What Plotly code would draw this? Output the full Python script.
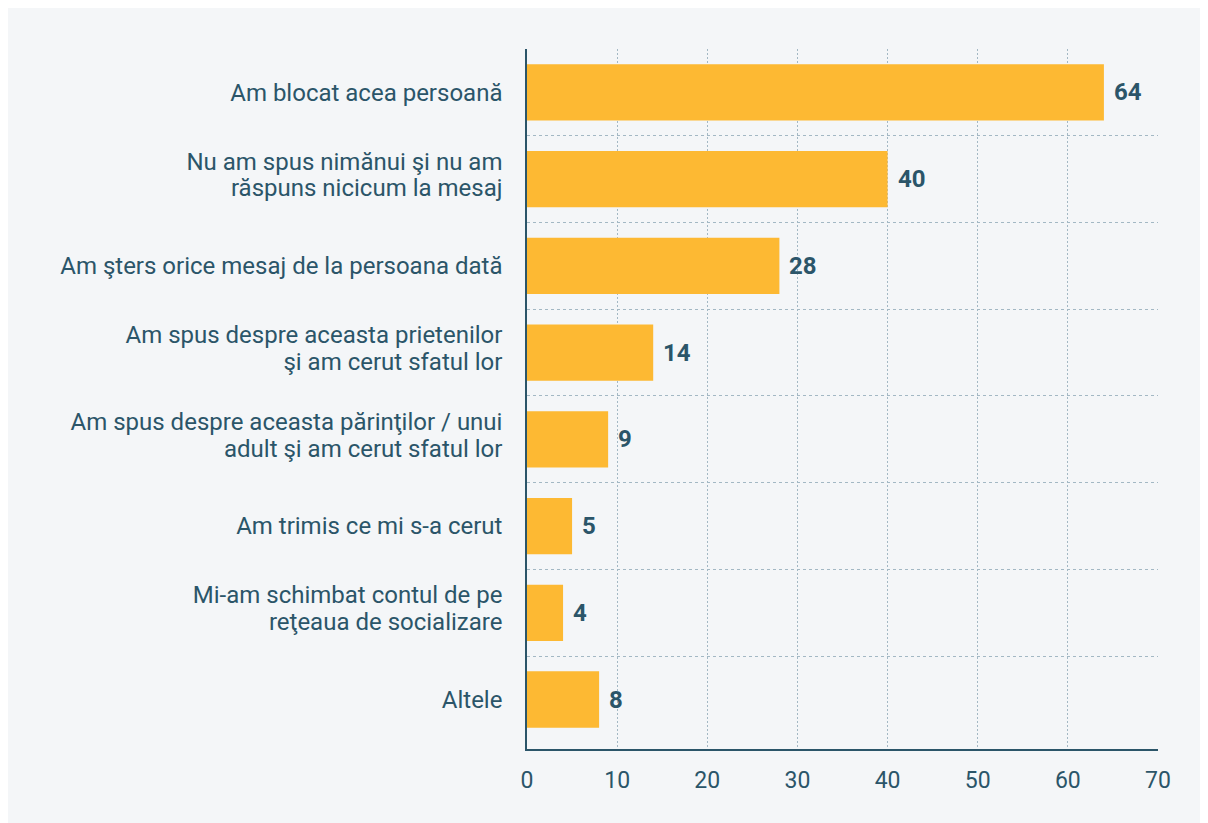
import plotly.graph_objects as go

categories = [
    "Am blocat acea persoană",
    "Nu am spus nimănui şi nu am<br>răspuns nicicum la mesaj",
    "Am şters orice mesaj de la persoana dată",
    "Am spus despre aceasta prietenilor<br>şi am cerut sfatul lor",
    "Am spus despre aceasta părinţilor / unui<br>adult şi am cerut sfatul lor",
    "Am trimis ce mi s-a cerut",
    "Mi-am schimbat contul de pe<br>reţeaua de socializare",
    "Altele",
]
values = [64, 40, 28, 14, 9, 5, 4, 8]
x_ticks = [0, 10, 20, 30, 40, 50, 60, 70]

BAR = "#fdb933"
TXT = "#2b5569"
BG = "#f4f6f8"
GRID = "#a3b8c4"

idx = list(range(len(categories)))
n = len(categories)

# tighter line spacing for multi-line category labels: each line becomes its own tick
ROW_PX = 87.0
LINE_H = 27.0 / ROW_PX
UP = 4.5 / ROW_PX
tick_pos, tick_txt = [], []
for i, lab in zip(idx, categories):
    lines = lab.split("<br>")
    k = len(lines)
    for j, line in enumerate(lines):
        off = (j - (k - 1) / 2) * LINE_H - (UP if k > 1 else 0)
        tick_pos.append(i + off)
        tick_txt.append(line)

fig = go.Figure()
fig.add_trace(go.Bar(
    x=values, y=idx, orientation="h",
    marker=dict(color=BAR, line=dict(width=0)),
    width=0.65, hoverinfo="skip",
))

for i, v in zip(idx, values):
    fig.add_annotation(
        x=v, y=i, text=f"<b>{v}</b>", showarrow=False,
        xanchor="left", yanchor="middle", xshift=8,
        font=dict(family="Roboto", size=24, color=TXT),
    )

fig.update_layout(
    width=1208, height=823,
    paper_bgcolor=BG, plot_bgcolor=BG,
    margin=dict(l=519, r=58, t=41, b=82),
    showlegend=False,
    font=dict(family="Roboto", size=24, color=TXT),
    xaxis=dict(
        range=[0, 70], tickvals=x_ticks, ticktext=[str(t) for t in x_ticks],
        showgrid=True, gridcolor=GRID, griddash="2px,2px", gridwidth=1,
        showline=True, linecolor=TXT, linewidth=1.5,
        ticks="outside", ticklen=10, tickcolor="rgba(0,0,0,0)",
        tickfont=dict(size=23, color=TXT), zeroline=False,
    ),
    yaxis=dict(
        range=[n - 0.5 + 0.07, -0.5],
        tickvals=tick_pos, ticktext=tick_txt,
        showgrid=False, zeroline=False,
        showline=True, linecolor=TXT, linewidth=1.5,
        ticks="outside", ticklen=18, tickcolor="rgba(0,0,0,0)",
        tickfont=dict(size=24, color=TXT),
        minor=dict(tickvals=[i + 0.5 for i in idx[:-1]], showgrid=True,
                   gridcolor=GRID, griddash="3px,3px", gridwidth=1, ticks=""),
    ),
)

fig.write_html("out.html")
